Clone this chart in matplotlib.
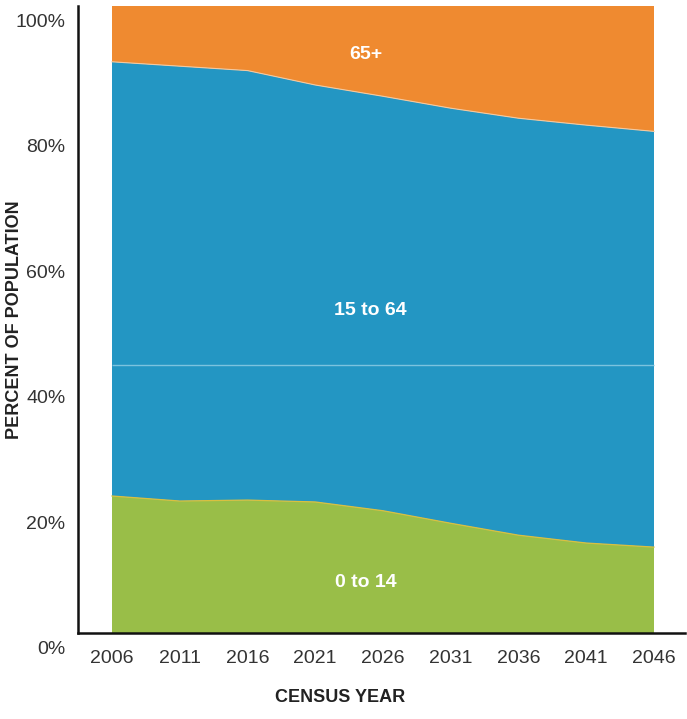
import matplotlib
matplotlib.use("Agg")
import matplotlib.pyplot as plt
import matplotlib.transforms as mtransforms
import numpy as np

# ---- data ----
years = [2006, 2011, 2016, 2021, 2026, 2031, 2036, 2041, 2046]
age_0_14 = [21.85, 21.05, 21.2, 20.9, 19.5, 17.5, 15.6, 14.35, 13.7]
cum_15_64_top = [91.1, 90.4, 89.7, 87.4, 85.6, 83.7, 82.1, 81.0, 80.0]
age_15_64 = [t - b for t, b in zip(cum_15_64_top, age_0_14)]
age_65_plus = [100 - t for t in cum_15_64_top]
series_labels = ["0 to 14", "15 to 64", "65+"]
label_pos = [(2024.7, 8.1), (2025.1, 51.5), (2024.7, 92.2)]
ytick_vals = [0, 20, 40, 60, 80, 100]
ytick_labels = ["0%", "20%", "40%", "60%", "80%", "100%"]
artifact_line = 42.7

colors = ["#99BE48", "#2396C3", "#EF8A30"]

plt.rcParams['font.family'] = ['Liberation Sans', 'DejaVu Sans']

fig = plt.figure(figsize=(6.87, 7.19), dpi=100)
ax = fig.add_axes([78/687, 1 - 633/719, (685 - 78)/687, (633 - 6)/719])

x = np.array(years)
ax.stackplot(x, age_0_14, age_15_64, age_65_plus, colors=colors, linewidth=0)
b1 = np.array(age_0_14)
b2 = b1 + np.array(age_15_64)
ax.plot(x, b1, color="#D9C040", lw=0.9)
ax.plot(x, b2, color="#F3C9A0", lw=0.8)
ax.hlines(artifact_line, years[0], years[-1], color="#7CC3DE", lw=1.0)

px_per_year = (654 - 112) / 40
ax.set_xlim(2006 - 34 / px_per_year, 2046 + 31 / px_per_year)
ax.set_ylim(0, 100)

for s in ["top", "right"]:
    ax.spines[s].set_visible(False)
for s in ["left", "bottom"]:
    ax.spines[s].set_linewidth(1.8)
    ax.spines[s].set_color("#111111")

ax.set_xticks(years)
ax.set_xticklabels([str(y) for y in years], fontsize=14, color="#333333")
ax.set_yticks(ytick_vals)
ax.set_yticklabels(ytick_labels, fontsize=14, color="#333333")
ax.tick_params(axis="both", length=0)
ax.tick_params(axis="x", pad=12)
ax.tick_params(axis="y", pad=9)

offset = mtransforms.ScaledTranslation(0, -14.5 / 100, fig.dpi_scale_trans)
for lab in ax.get_yticklabels():
    lab.set_transform(lab.get_transform() + offset)

ax.set_xlabel("CENSUS YEAR", fontsize=13, color="#222222", fontweight="bold")
ax.xaxis.set_label_coords((340 - 78) / 607, -(697 - 633) / 627)
ax.set_ylabel("PERCENT OF POPULATION", fontsize=13, color="#222222", fontweight="bold")
ax.yaxis.set_label_coords((15 - 78) / 607, (633 - 320) / 627)
ax.xaxis.label.set_va("center")
ax.yaxis.label.set_va("center")

for lbl, (lx, ly) in zip(series_labels, label_pos):
    ax.text(lx, ly, lbl, color="white", fontsize=14, fontweight="bold",
            ha="center", va="center")

fig.savefig("out.png", dpi=100)
